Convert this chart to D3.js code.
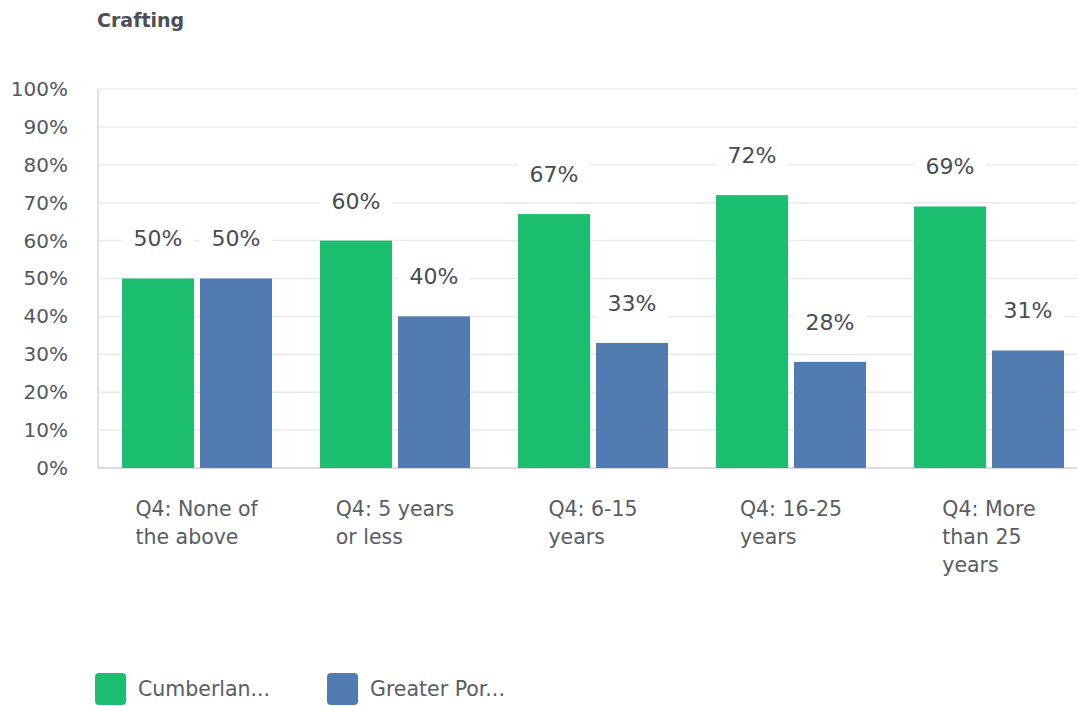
<!DOCTYPE html>
<html>
<head>
<meta charset="utf-8">
<script src="https://cdn.jsdelivr.net/npm/d3@7"></script>
<style>
  html, body { margin: 0; padding: 0; background: #fff; }
  svg { display: block; font-family: "DejaVu Sans", "Noto Sans", sans-serif; }
</style>
</head>
<body>
<svg id="chart" width="1077" height="706"></svg>
<script>
// Survey responses for "Crafting", split by years of experience (Q4)
const categories = [
  ["Q4: None of", "the above"],
  ["Q4: 5 years", "or less"],
  ["Q4: 6-15", "years"],
  ["Q4: 16-25", "years"],
  ["Q4: More", "than 25", "years"]
];
const seriesNames = ["Cumberlan...", "Greater Por..."];
const cumberland = [50, 60, 67, 72, 69];
const greaterPortland = [50, 40, 33, 28, 31];
const yTicks = [0, 10, 20, 30, 40, 50, 60, 70, 80, 90, 100];
const colors = ["#1cbf6f", "#527bb2"];

const svg = d3.select("#chart");
const margin = { left: 98, top: 89, bottom: 468, right: 1088 };

const catKeys = categories.map((c, i) => i);
const x0 = d3.scaleBand()
  .domain(catKeys)
  .range([margin.left, margin.right])
  .paddingInner(48 / 198)
  .paddingOuter(24 / 198);
const x1 = d3.scaleBand()
  .domain([0, 1])
  .range([0, x0.bandwidth()])
  .paddingInner(6 / 78);
const y = d3.scaleLinear().domain([0, 100]).range([margin.bottom, margin.top]);

// Title
svg.append("text")
  .attr("x", 97).attr("y", 27)
  .attr("fill", "#4b5058")
  .style("font-size", "19px").style("font-weight", "700")
  .text("Crafting");

// Horizontal grid lines
svg.append("g").selectAll("line")
  .data(yTicks.filter(t => t > 0))
  .join("line")
  .attr("x1", margin.left).attr("x2", 1077)
  .attr("y1", d => y(d)).attr("y2", d => y(d))
  .attr("stroke", "#e9eaeb").attr("stroke-width", 1.5);

// Y axis labels
const yAxis = d3.axisLeft(y).tickValues(yTicks).tickFormat(d => d + "%").tickSize(0).tickPadding(30);
svg.append("g")
  .attr("transform", `translate(${margin.left},0)`)
  .call(yAxis)
  .call(g => g.select(".domain").remove())
  .call(g => g.selectAll("text")
    .attr("fill", "#53585e")
    .style("font-size", "20px")
    .style("font-family", "'DejaVu Sans', sans-serif"));

// Axis lines
svg.append("line")
  .attr("x1", margin.left).attr("x2", margin.left)
  .attr("y1", margin.top).attr("y2", margin.bottom)
  .attr("stroke", "#d4d6d8").attr("stroke-width", 1.5);
svg.append("line")
  .attr("x1", margin.left).attr("x2", 1077)
  .attr("y1", margin.bottom).attr("y2", margin.bottom)
  .attr("stroke", "#cfd1d3").attr("stroke-width", 1.5);

// Bars
const rows = [];
catKeys.forEach(i => {
  [cumberland[i], greaterPortland[i]].forEach((v, s) => rows.push({ cat: i, s, v }));
});

svg.append("g").selectAll("rect")
  .data(rows)
  .join("rect")
  .attr("x", d => x0(d.cat) + x1(d.s))
  .attr("y", d => y(d.v))
  .attr("width", x1.bandwidth())
  .attr("height", d => y(0) - y(d.v))
  .attr("fill", d => colors[d.s]);

// Value labels with white backing that breaks the grid lines
const labels = svg.append("g").selectAll("g")
  .data(rows)
  .join("g")
  .attr("transform", d => `translate(${x0(d.cat) + x1(d.s) + x1.bandwidth() / 2},${y(d.v) - 40})`);
labels.append("rect")
  .attr("x", -36).attr("y", -14).attr("width", 72).attr("height", 28)
  .attr("fill", "#fff");
labels.append("text")
  .attr("text-anchor", "middle")
  .attr("dy", "0.36em")
  .attr("fill", "#474c53")
  .style("font-size", "22px")
  .text(d => d.v + "%");

// Category labels: block centred under the group, lines left-aligned
const catG = svg.append("g").selectAll("text")
  .data(categories)
  .join("text")
  .attr("fill", "#585d63")
  .style("font-size", "20.5px");
catG.each(function (lines, i) {
  const t = d3.select(this);
  lines.forEach((ln, k) => {
    t.append("tspan").attr("x", 0).attr("y", 516 + k * 28).text(ln);
  });
  const w = this.getBBox().width;
  const cx = x0(i) + x0.bandwidth() / 2;
  t.attr("transform", `translate(${cx - w / 2},0)`);
});

// Legend
const legendX = [95, 327];
const legend = svg.append("g").selectAll("g")
  .data(seriesNames)
  .join("g")
  .attr("transform", (d, i) => `translate(${legendX[i]},673)`);
legend.append("rect")
  .attr("width", 31).attr("height", 32).attr("rx", 4)
  .attr("fill", (d, i) => colors[i]);
legend.append("text")
  .attr("x", 43).attr("y", 16).attr("dy", "0.35em")
  .attr("fill", "#585d63")
  .style("font-size", "20.5px")
  .text(d => d);
</script>
</body>
</html>
